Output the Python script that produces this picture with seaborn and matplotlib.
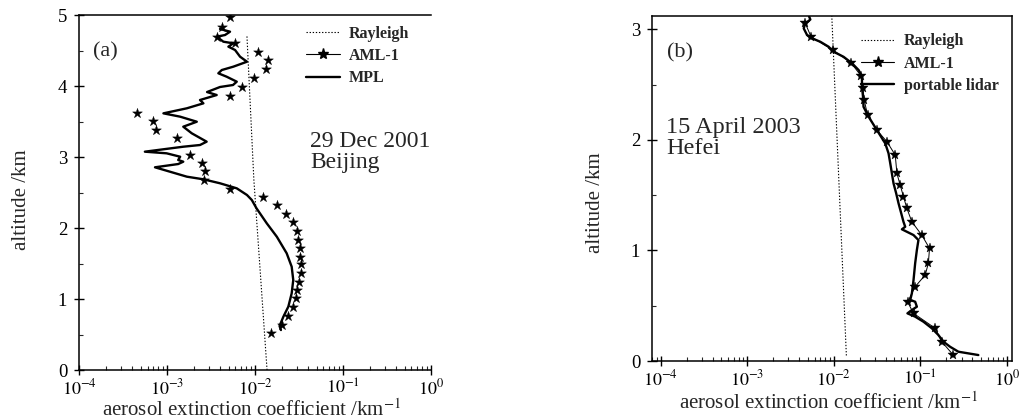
import matplotlib
matplotlib.use("Agg")
import matplotlib.pyplot as plt
from matplotlib.lines import Line2D
from matplotlib.ticker import LogLocator, MultipleLocator, NullFormatter
import seaborn as sns

# ---------------- panel (a): 29 Dec 2001, Beijing ----------------
a_rayleigh_alt = [0.0, 2.68, 4.70]
a_rayleigh_ext = [0.0137, 0.0097, 0.0081]

a_mpl_alt = [0.563, 0.62, 0.751, 0.892, 1.08, 1.268, 1.455, 1.644, 1.877, 2.066,
             2.277, 2.394, 2.465, 2.559, 2.63, 2.686, 2.723, 2.793, 2.855, 2.901,
             2.934, 2.958, 3.004, 3.052, 3.075, 3.145, 3.169, 3.216, 3.334, 3.427,
             3.497, 3.568, 3.615, 3.686, 3.756, 3.803, 3.873, 3.915, 3.986, 4.014,
             4.061, 4.131, 4.179, 4.225, 4.272, 4.342, 4.413, 4.507, 4.554, 4.601,
             4.624, 4.695, 4.718, 4.765, 4.803]
a_mpl_ext = [0.0197, 0.0190, 0.0210, 0.0239, 0.0261, 0.0272, 0.0261, 0.0229, 0.0177, 0.0136,
             0.0104, 0.0092, 0.0081, 0.0062, 0.0040, 0.00259, 0.00168, 0.00108, 0.00073, 0.00134,
             0.00153, 0.00134, 0.00141, 0.00099, 0.00056, 0.00153, 0.00237, 0.00282, 0.00191, 0.00153,
             0.00218, 0.00141, 0.00091, 0.00168, 0.00259, 0.00237, 0.00367, 0.00285, 0.0040, 0.00562,
             0.0062, 0.00476, 0.00383, 0.00419, 0.00566, 0.0081, 0.00676, 0.00593, 0.00498, 0.00566,
             0.00437, 0.00367, 0.00456, 0.0052, 0.0040]

a_aml_alt = [0.525, 0.634, 0.761, 0.892, 1.01, 1.127, 1.244, 1.37, 1.493, 1.596,
             1.714, 1.831, 1.962, 2.08, 2.197, 2.324, 2.441, 2.545, 2.676, 2.796,
             2.915, 3.028, 3.27, 3.385, 3.51, 3.624, 3.866, 3.986, 4.115, 4.235,
             4.362, 4.476, 4.60, 4.695, 4.835, 4.976]
a_aml_ext = [0.0151, 0.0201, 0.0239, 0.0272, 0.0292, 0.0303, 0.0318, 0.0330, 0.0330, 0.0325,
             0.0325, 0.0310, 0.0298, 0.0268, 0.0225, 0.0179, 0.0124, 0.0052, 0.00263, 0.0027,
             0.0025, 0.00182, 0.00131, 0.00074, 0.000698, 0.000453, 0.0052, 0.00706, 0.00966, 0.0133,
             0.0142, 0.0107, 0.00593, 0.00367, 0.00419, 0.0052]

# ---------------- panel (b): 15 April 2003, Hefei ----------------
b_rayleigh_alt = [0.05, 3.12]
b_rayleigh_ext = [0.014, 0.0095]

b_lidar_alt = [0.054, 0.084, 0.129, 0.175, 0.235, 0.296, 0.355, 0.401, 0.431, 0.461,
               0.491, 0.536, 0.552, 0.612, 0.732, 0.883, 1.004, 1.094, 1.139, 1.191,
               1.214, 1.259, 1.335, 1.426, 1.516, 1.607, 1.697, 1.788, 1.878, 1.968,
               2.089, 2.209, 2.299, 2.39, 2.48, 2.571, 2.631, 2.692, 2.751, 2.797,
               2.842, 2.887, 2.918, 2.948, 3.008, 3.053, 3.088, 3.115]
b_lidar_ext = [0.469, 0.276, 0.221, 0.185, 0.162, 0.136, 0.109, 0.0873, 0.0711, 0.080,
               0.0914, 0.0873, 0.0766, 0.080, 0.0836, 0.0873, 0.0914, 0.0953, 0.0836, 0.0614,
               0.067, 0.064, 0.0603, 0.0561, 0.0527, 0.0491, 0.0470, 0.045, 0.043, 0.0394,
               0.0315, 0.0253, 0.0221, 0.0218, 0.0212, 0.0212, 0.0194, 0.0163, 0.0130, 0.00998,
               0.00873, 0.0070, 0.00562, 0.00492, 0.0045, 0.0047, 0.00537, 0.0052]

b_aml_alt = [0.054, 0.175, 0.296, 0.431, 0.533, 0.672, 0.778, 0.883, 1.019, 1.139,
             1.259, 1.381, 1.486, 1.591, 1.697, 1.863, 1.983, 2.089, 2.224, 2.36,
             2.466, 2.577, 2.697, 2.812, 2.932, 3.053]
b_aml_ext = [0.241, 0.177, 0.149, 0.0836, 0.0716, 0.0873, 0.114, 0.124, 0.128, 0.104,
             0.080, 0.070, 0.064, 0.0586, 0.0537, 0.0514, 0.0412, 0.0315, 0.0246, 0.0225,
             0.0218, 0.0208, 0.0158, 0.0098, 0.00547, 0.0047]

# ---------------- labels ----------------
xtick_values = [1e-4, 1e-3, 1e-2, 1e-1, 1e0]
xtick_labels = ["$10^{-4}$", "$10^{-3}$", "$10^{-2}$", "$10^{-1}$", "$10^{0}$"]
a_ytick_values = [0, 1, 2, 3, 4, 5]
b_ytick_values = [0, 1, 2, 3]
xlabel_text = "aerosol extinction coefficient /km$^{-1}$"
ylabel_text = "altitude /km"
a_legend_labels = ["Rayleigh", "AML-1", "MPL"]
b_legend_labels = ["Rayleigh", "AML-1", "portable lidar"]
a_tag, b_tag = "(a)", "(b)"
a_note = "29 Dec 2001\nBeijing"
b_note = "15 April 2003\nHefei"

# ---------------- style ----------------
sns.set_style("ticks")
plt.rcParams["font.family"] = ["Liberation Serif", "DejaVu Serif"]
plt.rcParams["mathtext.fontset"] = "stix"
plt.rcParams["axes.linewidth"] = 1.1

fig = plt.figure(figsize=(10.25, 4.19), dpi=100)
ax_a = fig.add_axes([0.0771, 0.1169, 0.3434, 0.8473])
ax_b = fig.add_axes([0.6361, 0.1384, 0.3512, 0.8234])

RAY_STYLE = dict(color="black", linewidth=0.8, linestyle=(0, (1.2, 1.6)))

for ax in (ax_a, ax_b):
    ax.set_xscale("log")

# panel (a)
sns.lineplot(x=a_rayleigh_ext, y=a_rayleigh_alt, sort=False, estimator=None,
             ax=ax_a, legend=False, **RAY_STYLE)
sns.lineplot(x=a_mpl_ext, y=a_mpl_alt, sort=False, estimator=None, ax=ax_a,
             color="black", linewidth=1.7, legend=False)
sns.scatterplot(x=a_aml_ext, y=a_aml_alt, marker="*", s=55, color="black",
                edgecolor="black", linewidth=0.3, ax=ax_a, legend=False, zorder=3)

# panel (b)
sns.lineplot(x=b_rayleigh_ext, y=b_rayleigh_alt, sort=False, estimator=None,
             ax=ax_b, legend=False, **RAY_STYLE)
sns.lineplot(x=b_lidar_ext, y=b_lidar_alt, sort=False, estimator=None, ax=ax_b,
             color="black", linewidth=1.7, legend=False)
sns.lineplot(x=b_aml_ext, y=b_aml_alt, sort=False, estimator=None, ax=ax_b,
             color="black", linewidth=0.7, marker="*", markersize=7,
             markeredgecolor="black", markeredgewidth=0.3, legend=False)

ax_a.set_xlim(1e-4, 1e0)
ax_a.set_ylim(0, 5)
ax_b.set_xlim(10 ** -4.1, 10 ** 0.06)
ax_b.set_ylim(0, 3.12)

for ax, yt in ((ax_a, a_ytick_values), (ax_b, b_ytick_values)):
    ax.set_xticks(xtick_values)
    ax.set_xticklabels(xtick_labels)
    ax.xaxis.set_minor_locator(LogLocator(base=10, subs=range(2, 10), numticks=20))
    ax.xaxis.set_minor_formatter(NullFormatter())
    ax.set_yticks(yt)
    ax.set_yticklabels([str(v) for v in yt])
    ax.yaxis.set_minor_locator(MultipleLocator(0.5))
    ax.tick_params(which="major", direction="inout", length=7, width=1.0,
                   colors="black")
    ax.tick_params(axis="x", which="major", pad=2.5, labelsize=13)
    ax.tick_params(axis="y", which="major", pad=5, labelsize=13.5)
    ax.tick_params(which="minor", direction="in", length=3, width=0.8)
    ax.set_xlabel(xlabel_text, fontsize=15)
    ax.set_ylabel(ylabel_text, fontsize=15)
    for s in ax.spines.values():
        s.set_color("black")

ax_a.spines["right"].set_visible(False)
ax_a.xaxis.set_label_coords(0.49, -0.082)
ax_a.yaxis.set_label_coords(-0.136, 0.48)
ax_b.xaxis.set_label_coords(0.49, -0.092)
ax_b.yaxis.set_label_coords(-0.13, 0.46)

# legends
def handles():
    return [Line2D([], [], **RAY_STYLE),
            Line2D([], [], color="black", linewidth=0.8, marker="*", markersize=8),
            Line2D([], [], color="black", linewidth=1.7)]

for ax, labels, anchor in ((ax_a, a_legend_labels, (0.645, 0.97)),
                           (ax_b, b_legend_labels, (0.58, 0.95))):
    ax.legend(handles(), labels, loc="upper left", bbox_to_anchor=anchor,
              frameon=False, borderpad=0, borderaxespad=0, handlelength=2.1,
              handletextpad=0.6, labelspacing=0.4,
              prop={"family": "Liberation Serif", "weight": "bold", "size": 11.5})

ax_a.text(0.04, 0.895, a_tag, transform=ax_a.transAxes, fontsize=16, va="center")
ax_b.text(0.042, 0.893, b_tag, transform=ax_b.transAxes, fontsize=16, va="center")
ax_a.text(0.656, 0.672, a_note, transform=ax_a.transAxes, fontsize=17, va="top",
          linespacing=0.95)
ax_b.text(0.039, 0.706, b_note, transform=ax_b.transAxes, fontsize=17.5, va="top",
          linespacing=0.95)

fig.savefig("out.png", dpi=100)
